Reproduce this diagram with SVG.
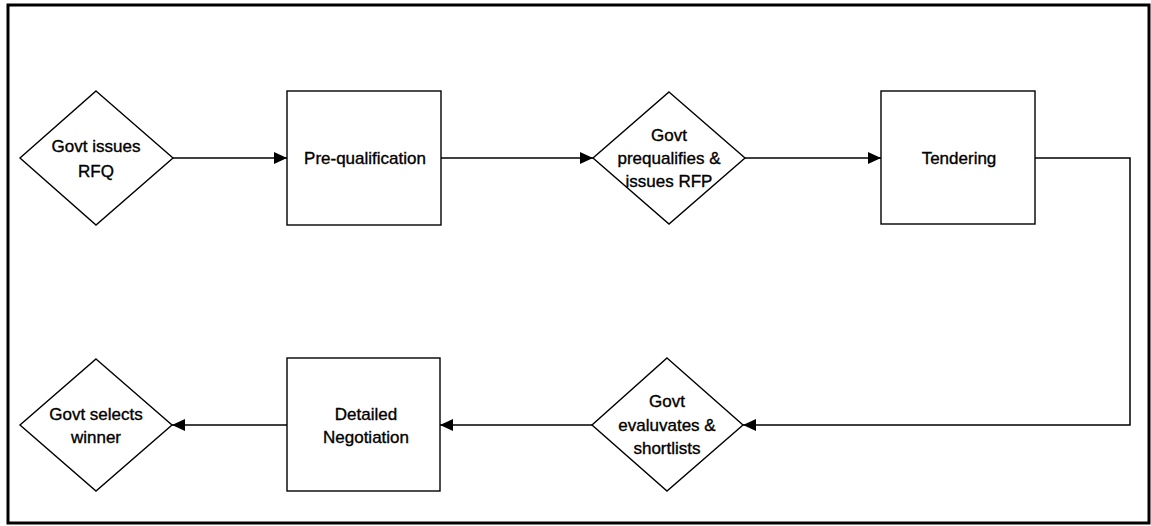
<svg xmlns="http://www.w3.org/2000/svg" width="1151" height="526" viewBox="0 0 1151 526">
<style>
.shape{fill:#fff;stroke:#000;stroke-width:1.4}
.conn{fill:none;stroke:#000;stroke-width:1.5}
text{font-family:"Liberation Sans",Arial,sans-serif;font-size:17px;fill:#000;stroke:#000;stroke-width:0.35;text-anchor:middle;dominant-baseline:central}
</style>
<defs>
<marker id="arr" markerWidth="13" markerHeight="12" refX="13" refY="6" orient="auto" markerUnits="userSpaceOnUse">
<path d="M0,0 L13,6 L0,12 Z" fill="#000"/>
</marker>
</defs>
<rect x="0" y="0" width="1151" height="526" fill="#fff"/>
<rect x="8" y="5" width="1141" height="518" fill="none" stroke="#000" stroke-width="3"/>
<g id="connectors">
<line class="conn" x1="173" y1="158" x2="287" y2="158" marker-end="url(#arr)"/>
<line class="conn" x1="441" y1="158" x2="593" y2="158" marker-end="url(#arr)"/>
<line class="conn" x1="745" y1="158" x2="881" y2="158" marker-end="url(#arr)"/>
<polyline class="conn" points="1035,158 1130,158 1130,425 743,425" marker-end="url(#arr)"/>
<line class="conn" x1="592" y1="425" x2="440" y2="425" marker-end="url(#arr)"/>
<line class="conn" x1="287" y1="425" x2="172" y2="425" marker-end="url(#arr)"/>
</g>
<g id="n1">
<polygon class="shape" points="96,91 173,158 96,225 20,158"/>
<text x="96" y="146">Govt issues</text>
<text x="96" y="171">RFQ</text>
</g>
<g id="n2">
<rect class="shape" x="287" y="91" width="154" height="134"/>
<text x="365" y="158">Pre-qualification</text>
</g>
<g id="n3">
<polygon class="shape" points="669,92 745,158 669,224 593,158"/>
<text x="669" y="135">Govt</text>
<text x="669" y="158">prequalifies &amp;</text>
<text x="669" y="181">issues RFP</text>
</g>
<g id="n4">
<rect class="shape" x="881" y="91" width="154" height="133"/>
<text x="959" y="158">Tendering</text>
</g>
<g id="n5">
<polygon class="shape" points="667,358 743,425 667,491 592,425"/>
<text x="667" y="401">Govt</text>
<text x="667" y="425">evaluvates &amp;</text>
<text x="667" y="448">shortlists</text>
</g>
<g id="n6">
<rect class="shape" x="287" y="358" width="153" height="133"/>
<text x="366" y="414">Detailed</text>
<text x="366" y="437">Negotiation</text>
</g>
<g id="n7">
<polygon class="shape" points="96,359 172,425 96,491 20,425"/>
<text x="96" y="414">Govt selects</text>
<text x="96" y="437">winner</text>
</g>
</svg>
